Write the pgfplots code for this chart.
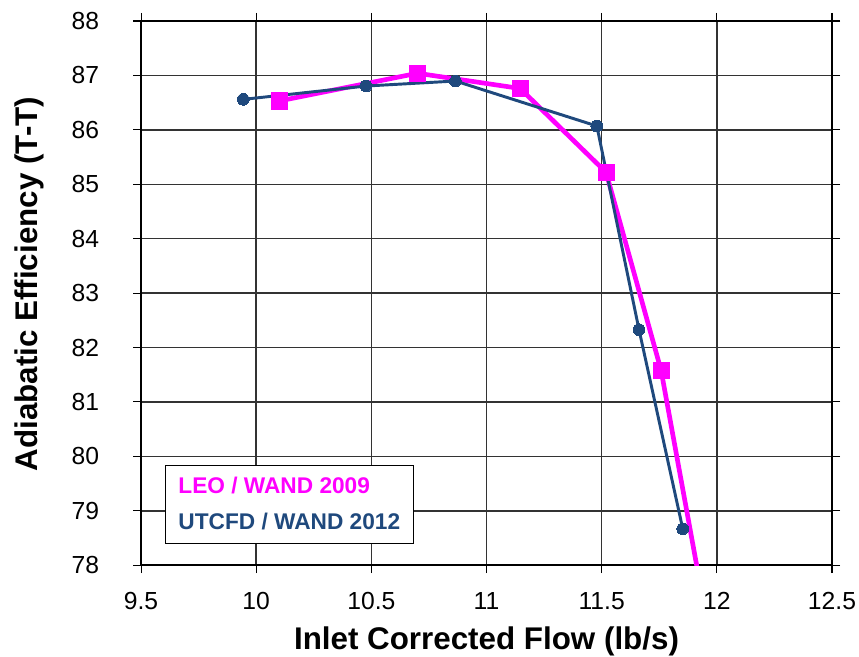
\documentclass[border=0pt]{standalone}
\usepackage{pgfplots}
\pgfplotsset{compat=1.18}
\usepackage{fontspec}
\setmainfont{Liberation Sans}
\definecolor{leo}{RGB}{255,0,255}
\definecolor{utc}{RGB}{31,73,125}
\begin{document}
\begin{tikzpicture}
\begin{axis}[
  scale only axis,
  width=518pt, height=408pt,
  xmin=9.5, xmax=12.5, ymin=78, ymax=88,
  xtick={9.5,10,10.5,11,11.5,12,12.5},
  xticklabels={9.5,10,10.5,11,11.5,12,12.5},
  ytick={78,79,80,81,82,83,84,85,86,87,88},
  grid=major,
  major grid style={black!80, line width=1.1pt},
  axis line style={black, line width=1.1pt},
  tick align=outside,
  major tick length=6pt,
  tick style={black, line width=0.8pt},
  /pgf/number format/assume math mode=true,
  tick label style={font=\fontsize{18.5}{21}\selectfont},
  xticklabel style={anchor=base, yshift=-27pt},
  yticklabel style={anchor=east, xshift=-22pt},
  xlabel={\textbf{Inlet Corrected Flow (lb/s)}},
  ylabel={\textbf{Adiabatic Efficiency (T-T)}},
  every axis x label/.style={at={(axis description cs:0.5,0)}, anchor=base, yshift=-63pt, font=\fontsize{23.5}{26}\selectfont},
  every axis y label/.style={at={(axis description cs:0,0.5)}, xshift=-84pt, yshift=6.7pt, anchor=center, rotate=90, font=\fontsize{23.5}{26}\selectfont},
  legend image code/.code={},
  legend style={at={(axis description cs:0.034,0.039)}, anchor=south west,
    draw=black, line width=0.8pt, fill=white,
    font=\fontsize{17}{20}\selectfont\bfseries,
    inner xsep=8pt, inner ysep=7pt,
    row sep=9pt,
    cells={anchor=west}},
  legend cell align=left,
  clip=true,
]
\coordinate (sw) at (rel axis cs:0,0);
\coordinate (ne) at (rel axis cs:1,1);
\addplot[leo, line width=3.5pt, mark=square*, mark size=6pt, mark options={solid, line width=0pt}]
coordinates {
(10.099,86.53)
(10.70,87.04)
(11.146,86.76)
(11.519,85.22)
(11.758,81.58)
(11.99,76.2)
};
\addlegendentry{\textcolor{leo}{LEO / WAND 2009}}
\addplot[utc, line width=2.2pt, mark=*, mark size=4.4pt, mark options={solid, line width=0pt}]
coordinates {
(9.944,86.56)
(10.477,86.805)
(10.865,86.897)
(11.479,86.07)
(11.662,82.33)
(11.852,78.67)
};
\addlegendentry{\textcolor{utc}{UTCFD / WAND 2012}}
\end{axis}
\pgfresetboundingbox
\path ([xshift=-105.75pt,yshift=-68.25pt]sw) rectangle ([xshift=20.25pt,yshift=15.75pt]ne);
\end{tikzpicture}
\end{document}
